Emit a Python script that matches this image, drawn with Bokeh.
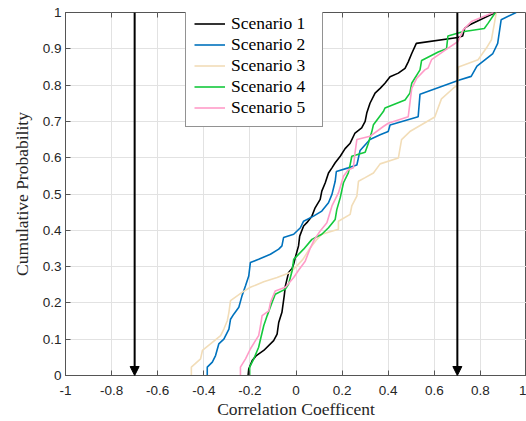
from bokeh.plotting import figure
from bokeh.models import (Arrow, NormalHead, LinearAxis, FixedTicker, Legend,
                          LegendItem, ColumnDataSource)
from bokeh.embed import file_html
from bokeh.resources import INLINE

# ---------------- data ----------------
s1_x = [-0.208, -0.205, -0.19, -0.172, -0.14, -0.097, -0.082, -0.075, -0.061, -0.051,
        -0.046, -0.032, -0.017, -0.010, -0.003, 0.011, 0.016, 0.033, 0.047, 0.069,
        0.083, 0.105, 0.112, 0.127, 0.141, 0.156, 0.170, 0.192, 0.213, 0.235,
        0.256, 0.285, 0.300, 0.307, 0.321, 0.343, 0.365, 0.386, 0.408, 0.444,
        0.473, 0.487, 0.502, 0.522, 0.702, 0.723, 0.732, 0.754, 0.865]
s1_y = [0.0, 0.018, 0.041, 0.055, 0.069, 0.096, 0.114, 0.146, 0.174, 0.22,
        0.247, 0.284, 0.295, 0.307, 0.325, 0.357, 0.384, 0.412, 0.421, 0.439,
        0.462, 0.485, 0.508, 0.531, 0.558, 0.572, 0.586, 0.604, 0.625, 0.64,
        0.668, 0.682, 0.70, 0.723, 0.75, 0.778, 0.791, 0.805, 0.823, 0.833,
        0.846, 0.864, 0.887, 0.915, 0.931, 0.935, 0.957, 0.966, 1.0]

s2_x = [-0.385, -0.385, -0.363, -0.349, -0.335, -0.313, -0.291, -0.284, -0.27, -0.248,
        -0.234, -0.219, -0.205, -0.198, -0.162, -0.111, -0.075, -0.061, -0.054, -0.01,
        0.019, 0.033, 0.076, 0.112, 0.141, 0.156, 0.17, 0.175, 0.227, 0.264,
        0.278, 0.321, 0.365, 0.40, 0.408, 0.53, 0.538, 0.709, 0.76, 0.785,
        0.854, 0.875, 0.89, 0.955]
s2_y = [0.0, 0.023, 0.037, 0.055, 0.087, 0.1, 0.128, 0.155, 0.169, 0.188,
        0.22, 0.247, 0.274, 0.311, 0.32, 0.334, 0.348, 0.357, 0.38, 0.389,
        0.407, 0.425, 0.439, 0.453, 0.476, 0.499, 0.535, 0.562, 0.572, 0.58,
        0.62, 0.65, 0.663, 0.672, 0.69, 0.713, 0.775, 0.814, 0.824, 0.852,
        0.887, 0.915, 0.98, 1.0]

s3_x = [-0.454, -0.454, -0.414, -0.406, -0.371, -0.327, -0.313, -0.298, -0.291, -0.284,
        -0.234, -0.198, -0.14, -0.082, -0.025, 0.004, 0.03, 0.06, 0.091, 0.112,
        0.184, 0.184, 0.235, 0.242, 0.264, 0.271, 0.30, 0.336, 0.365, 0.444,
        0.458, 0.494, 0.602, 0.631, 0.68, 0.70, 0.705, 0.79, 0.826, 0.848,
        0.862, 0.869]
s3_y = [0.0, 0.023, 0.046, 0.069, 0.087, 0.11, 0.128, 0.151, 0.174, 0.206,
        0.229, 0.243, 0.258, 0.27, 0.284, 0.302, 0.32, 0.35, 0.375, 0.389,
        0.403, 0.425, 0.444, 0.467, 0.494, 0.535, 0.545, 0.558, 0.583, 0.599,
        0.65, 0.672, 0.712, 0.762, 0.79, 0.80, 0.85, 0.87, 0.902, 0.925,
        0.975, 1.0]

s4_x = [-0.201, -0.201, -0.183, -0.162, -0.154, -0.14, -0.125, -0.104, -0.09, -0.046,
        -0.032, -0.017, -0.01, 0.033, 0.069, 0.112, 0.141, 0.17, 0.177, 0.192,
        0.206, 0.227, 0.235, 0.242, 0.30, 0.314, 0.329, 0.336, 0.379, 0.386,
        0.473, 0.494, 0.502, 0.538, 0.545, 0.617, 0.653, 0.659, 0.723, 0.817,
        0.833, 0.865]
s4_y = [0.0, 0.023, 0.046, 0.078, 0.1, 0.137, 0.165, 0.201, 0.224, 0.238,
        0.252, 0.288, 0.32, 0.348, 0.375, 0.389, 0.407, 0.43, 0.457, 0.49,
        0.531, 0.558, 0.581, 0.604, 0.615, 0.64, 0.672, 0.691, 0.727, 0.737,
        0.759, 0.778, 0.805, 0.842, 0.868, 0.891, 0.9, 0.935, 0.947, 0.956,
        0.97, 1.0]

s5_x = [-0.241, -0.241, -0.219, -0.198, -0.176, -0.162, -0.154, -0.147, -0.118, -0.111,
        -0.09, -0.046, -0.01, 0.011, 0.04, 0.06, 0.08, 0.105, 0.134, 0.156,
        0.184, 0.206, 0.227, 0.249, 0.256, 0.264, 0.321, 0.379, 0.40, 0.487,
        0.502, 0.523, 0.559, 0.573, 0.588, 0.66, 0.703, 0.725, 0.761, 0.857]
s5_y = [0.0, 0.023, 0.046, 0.073, 0.096, 0.11, 0.137, 0.165, 0.178, 0.201,
        0.233, 0.243, 0.27, 0.29, 0.315, 0.348, 0.375, 0.398, 0.421, 0.467,
        0.503, 0.549, 0.567, 0.572, 0.613, 0.65, 0.659, 0.686, 0.695, 0.713,
        0.791, 0.818, 0.842, 0.847, 0.87, 0.902, 0.92, 0.952, 0.975, 1.0]

series_names = ["Scenario 1", "Scenario 2", "Scenario 3", "Scenario 4", "Scenario 5"]
series_colors = ["#000000", "#0072BD", "#F2DDB8", "#14C93C", "#FF9CC8"]

threshold_x = [-0.7, 0.7]
threshold_top = [1.0, 1.0]
threshold_bottom = [0.0, 0.0]

x_ticks = [-1, -0.8, -0.6, -0.4, -0.2, 0, 0.2, 0.4, 0.6, 0.8, 1]
x_labels = ["-1", "-0.8", "-0.6", "-0.4", "-0.2", "0", "0.2", "0.4", "0.6", "0.8", "1"]
y_ticks = [0, 0.1, 0.2, 0.3, 0.4, 0.5, 0.6, 0.7, 0.8, 0.9, 1]
y_labels = ["0", "0.1", "0.2", "0.3", "0.4", "0.5", "0.6", "0.7", "0.8", "0.9", "1"]

# ---------------- figure ----------------
AX = "#555555"
TXT = "#262626"
SERIF = "Liberation Serif"
SANS = "Liberation Sans"

p = figure(width=526, height=421, output_backend="svg", toolbar_location=None,
           x_range=(-1, 1), y_range=(0, 1),
           min_border_left=65, min_border_right=0, min_border_top=12,
           min_border_bottom=44)
p.background_fill_color = "white"
p.border_fill_color = "white"
p.outline_line_color = AX
p.outline_line_width = 1

for ax, ticks, labels in ((p.xaxis[0], x_ticks, x_labels), (p.yaxis[0], y_ticks, y_labels)):
    ax.ticker = FixedTicker(ticks=ticks)
    ax.major_label_overrides = dict(zip(ticks, labels))
    ax.major_tick_in = 5
    ax.major_tick_out = 0
    ax.minor_tick_in = 0
    ax.minor_tick_out = 0
    ax.axis_line_color = AX
    ax.major_tick_line_color = AX
    ax.major_label_text_font = SANS
    ax.major_label_text_font_size = "13.5px"
    ax.major_label_text_color = TXT
    ax.axis_label_text_font = SERIF
    ax.axis_label_text_font_size = "17.5px"
    ax.axis_label_text_font_style = "normal"
    ax.axis_label_text_color = TXT

p.xaxis.axis_label = "Correlation Coefficent"
p.yaxis.axis_label = "Cumulative Probability"
p.xaxis.major_label_standoff = 10
p.yaxis.major_label_standoff = 4
p.xaxis.axis_label_standoff = 1
p.yaxis.axis_label_standoff = 8

p.xgrid.ticker = FixedTicker(ticks=x_ticks)
p.ygrid.ticker = FixedTicker(ticks=y_ticks)
p.xgrid.grid_line_color = "#e2e2e2"
p.ygrid.grid_line_color = "#e2e2e2"

# top tick marks (box style), no labels
top_ax = LinearAxis(ticker=FixedTicker(ticks=x_ticks),
                    major_label_overrides={t: "" for t in x_ticks},
                    major_tick_in=5, major_tick_out=0, minor_tick_in=0, minor_tick_out=0,
                    major_label_standoff=0, axis_line_color=None,
                    major_tick_line_color=AX)
p.add_layout(top_ax, "above")

# ---------------- series ----------------
xs = [s1_x, s2_x, s3_x, s4_x, s5_x]
ys = [s1_y, s2_y, s3_y, s4_y, s5_y]
renderers = []
for x, y, c in zip(xs, ys, series_colors):
    r = p.line(x, y, line_color=c, line_width=1.6)
    renderers.append(r)

# ---------------- arrows ----------------
arr_src = ColumnDataSource(dict(x=threshold_x, y0=threshold_top, y1=threshold_bottom))
p.add_layout(Arrow(end=NormalHead(size=9, fill_color="black", line_color="black", line_width=1),
                   x_start="x", y_start="y0", x_end="x", y_end="y1",
                   source=arr_src, line_color="black", line_width=2))

# ---------------- legend ----------------
legend = Legend(items=[LegendItem(label=n, renderers=[r]) for n, r in zip(series_names, renderers)],
                location=(120, 248))
legend.border_line_color = "#262626"
legend.border_line_width = 1
legend.background_fill_color = "white"
legend.background_fill_alpha = 1
legend.label_text_font = SERIF
legend.label_text_font_size = "17.5px"
legend.label_text_color = "black"
legend.glyph_width = 31
legend.glyph_height = 19
legend.label_height = 19
legend.label_standoff = 6
legend.spacing = 0
legend.padding = 8
legend.margin = 0
legend.label_width = 83
p.add_layout(legend)

open("out.html", "w").write(file_html(p, INLINE))
